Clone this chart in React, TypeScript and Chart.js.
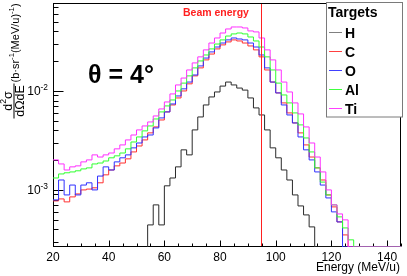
import React, { useEffect, useRef } from 'react';
import { Chart, registerables } from 'chart.js';

Chart.register(...registerables);

const FONT = 'Liberation Sans, Arial, Helvetica, sans-serif';

// Axis ranges
const X_MIN = 20;
const X_MAX = 145;
const Y_MIN = 2.65e-4;
const Y_MAX = 7.74e-2;
const BIN_WIDTH = 2;
const BEAM_ENERGY = 95;

// Tick labels
const X_TICKS = [20, 40, 60, 80, 100, 120, 140];
const Y_TICKS = [
  { value: 1e-3, base: '10', exp: '-3' },
  { value: 1e-2, base: '10', exp: '-2' },
];

// Series (first bin low edge, then bin contents, 2 MeV/u bins)
const TARGETS = ['H', 'C', 'O', 'Al', 'Ti'];
const COLORS = ['#2a2a2a', '#ff3030', '#3030ff', '#30ff30', '#ff30ff'];
const LEGEND_COLORS = ['#808080', '#ff4040', '#4040ff', '#40ff40', '#ff40ff'];

const H_START = 54;
const H_VALUES = [
  4.43e-4, 7.06e-4, 4.43e-4, 1.10e-3, 1.32e-3, 1.71e-3, 2.54e-3, 2.26e-3, 4.04e-3, 5.46e-3,
  7.22e-3, 8.70e-3, 9.77e-3, 1.12e-2, 1.23e-2, 1.15e-2, 1.07e-2, 1.02e-2, 8.50e-3, 6.74e-3,
  5.72e-3, 4.04e-3, 2.66e-3, 2.11e-3, 1.59e-3, 1.26e-3, 8.90e-4, 6.89e-4, 5.59e-4, 4.23e-4,
];

const C_START = 20;
const C_VALUES = [
  7.74e-4, 8.11e-4, 7.57e-4, 8.50e-4, 9.11e-4, 1.00e-3, 1.02e-3, 1.05e-3, 1.18e-3, 1.42e-3,
  1.59e-3, 1.75e-3, 1.87e-3, 2.06e-3, 2.42e-3, 2.78e-3, 3.20e-3, 3.77e-3, 4.33e-3, 5.09e-3,
  6.14e-3, 7.22e-3, 8.50e-3, 1.00e-2, 1.18e-2, 1.42e-2, 1.71e-2, 2.06e-2, 2.36e-2, 2.66e-2,
  2.92e-2, 3.13e-2, 3.28e-2, 3.20e-2, 3.05e-2, 2.85e-2, 2.60e-2, 2.21e-2, 1.63e-2, 1.23e-2,
  9.55e-3, 7.57e-3, 6.00e-3, 4.75e-3, 3.77e-3, 2.85e-3, 2.15e-3, 1.67e-3, 1.26e-3, 8.90e-4,
  6.74e-4, 4.75e-4, 3.51e-4,
];

const O_START = 20;
const O_VALUES = [
  7.93e-4, 1.26e-3, 8.90e-4, 1.12e-3, 8.90e-4, 1.12e-3, 1.18e-3, 1.00e-3, 1.38e-3, 1.71e-3,
  1.59e-3, 1.92e-3, 2.11e-3, 2.26e-3, 2.66e-3, 2.98e-3, 3.43e-3, 3.59e-3, 4.23e-3, 5.34e-3,
  6.14e-3, 7.39e-3, 8.90e-3, 1.05e-2, 1.23e-2, 1.45e-2, 1.79e-2, 2.15e-2, 2.48e-2, 2.78e-2,
  3.05e-2, 3.28e-2, 3.43e-2, 3.35e-2, 3.28e-2, 3.05e-2, 2.78e-2, 2.31e-2, 1.71e-2, 1.23e-2,
  9.55e-3, 7.22e-3, 5.72e-3, 4.75e-3, 3.43e-3, 2.54e-3, 2.01e-3, 1.52e-3, 1.12e-3, 8.30e-4,
  6.00e-4, 4.75e-4,
];

const AL_START = 20;
const AL_VALUES = [
  1.32e-3, 1.45e-3, 1.49e-3, 1.52e-3, 1.56e-3, 1.63e-3, 1.67e-3, 1.83e-3, 1.87e-3, 1.96e-3,
  2.11e-3, 2.21e-3, 2.36e-3, 2.60e-3, 3.05e-3, 3.43e-3, 3.95e-3, 4.43e-3, 5.21e-3, 6.14e-3,
  7.06e-3, 8.11e-3, 1.00e-2, 1.20e-2, 1.42e-2, 1.71e-2, 2.01e-2, 2.31e-2, 2.66e-2, 2.98e-2,
  3.28e-2, 3.59e-2, 3.77e-2, 3.85e-2, 3.77e-2, 3.51e-2, 3.20e-2, 2.78e-2, 2.21e-2, 1.63e-2,
  1.20e-2, 9.11e-3, 7.57e-3, 6.00e-3, 4.54e-3, 3.35e-3, 2.42e-3, 1.67e-3, 1.20e-3, 8.90e-4,
  7.06e-4, 5.34e-4, 4.13e-4, 3.13e-4,
];

const TI_START = 20;
const TI_VALUES = [
  2.01e-3, 1.83e-3, 1.59e-3, 1.71e-3, 1.75e-3, 1.92e-3, 2.01e-3, 2.26e-3, 2.15e-3, 2.26e-3,
  2.36e-3, 2.60e-3, 2.85e-3, 3.20e-3, 3.59e-3, 4.04e-3, 4.43e-3, 4.86e-3, 5.59e-3, 6.58e-3,
  7.74e-3, 9.33e-3, 1.15e-2, 1.35e-2, 1.63e-2, 1.92e-2, 2.21e-2, 2.60e-2, 3.05e-2, 3.43e-2,
  3.85e-2, 4.23e-2, 4.43e-2, 4.43e-2, 4.33e-2, 4.04e-2, 3.95e-2, 3.43e-2, 2.60e-2, 2.06e-2,
  1.63e-2, 1.23e-2, 9.77e-3, 7.57e-3, 5.86e-3, 4.33e-3, 2.98e-3, 2.15e-3, 1.52e-3, 1.00e-3,
  7.06e-4, 5.72e-4, 4.98e-4,
];

const SERIES_START = [H_START, C_START, O_START, AL_START, TI_START];
const SERIES_VALUES = [H_VALUES, C_VALUES, O_VALUES, AL_VALUES, TI_VALUES];

function histogramPoints(start: number, values: number[]) {
  const pts: { x: number; y: number }[] = [];
  if (start > X_MIN) pts.push({ x: start, y: Y_MIN });
  values.forEach((v, i) => pts.push({ x: start + i * BIN_WIDTH, y: v }));
  const end = start + values.length * BIN_WIDTH;
  pts.push({ x: end, y: values[values.length - 1] });
  pts.push({ x: end, y: Y_MIN });
  pts.push({ x: X_MAX, y: Y_MIN });
  return pts;
}

function drawPieces(
  ctx: CanvasRenderingContext2D,
  pieces: { t: string; sup?: boolean }[],
  x: number,
  y: number,
  size: number,
  align: 'left' | 'center' | 'right',
  weight = ''
) {
  const supSize = size * 0.7;
  const widths = pieces.map((p) => {
    ctx.font = `${weight} ${p.sup ? supSize : size}px ${FONT}`;
    return ctx.measureText(p.t).width;
  });
  const total = widths.reduce((a, b) => a + b, 0);
  let cx = align === 'left' ? x : align === 'center' ? x - total / 2 : x - total;
  ctx.textAlign = 'left';
  ctx.textBaseline = 'alphabetic';
  pieces.forEach((p, i) => {
    ctx.font = `${weight} ${p.sup ? supSize : size}px ${FONT}`;
    ctx.fillText(p.t, cx, p.sup ? y - size * 0.42 : y);
    cx += widths[i];
  });
}

const decorPlugin = {
  id: 'rootDecor',
  beforeDatasetsDraw(chart: any) {
    const { ctx, chartArea } = chart;
    const xs = chart.scales.x;
    const ys = chart.scales.y;
    const L = Math.round(chartArea.left) + 0.5;
    const T = Math.round(chartArea.top) + 0.5;
    const R = Math.round(chartArea.right) - 0.5;
    const B = Math.round(chartArea.bottom) - 0.5;
    ctx.save();
    ctx.strokeStyle = '#000';
    ctx.lineWidth = 1;
    ctx.strokeRect(L, T, R - L, B - T);
    // x ticks (inside)
    ctx.beginPath();
    for (let v = X_MIN; v <= X_MAX; v += 5) {
      const px = Math.round(xs.getPixelForValue(v)) + 0.5;
      const len = v % 20 === 0 ? 6 : 3;
      ctx.moveTo(px, B);
      ctx.lineTo(px, B - len);
    }
    // y ticks (inside)
    for (let d = -4; d <= -1; d++) {
      for (let m = 1; m <= 9; m++) {
        const v = m * Math.pow(10, d);
        if (v < Y_MIN || v > Y_MAX) continue;
        const py = Math.round(ys.getPixelForValue(v)) + 0.5;
        const len = m === 1 ? 10 : 5;
        ctx.moveTo(L, py);
        ctx.lineTo(L + len, py);
      }
    }
    ctx.stroke();

    // tick labels
    ctx.fillStyle = '#000';
    ctx.font = `12px ${FONT}`;
    ctx.textAlign = 'center';
    ctx.textBaseline = 'alphabetic';
    X_TICKS.forEach((v) => {
      ctx.fillText(String(v), xs.getPixelForValue(v), 261);
    });
    Y_TICKS.forEach((t) => {
      const py = ys.getPixelForValue(t.value);
      drawPieces(ctx, [{ t: t.base }, { t: t.exp, sup: true }], 48, py + 4.5, 12, 'right');
    });

    // x title
    ctx.font = `12px ${FONT}`;
    ctx.textAlign = 'right';
    ctx.fillText('Energy (MeV/u)', 400, 271);

    // y title (rotated)
    ctx.save();
    ctx.translate(14, 101);
    ctx.rotate(-Math.PI / 2);
    drawPieces(ctx, [{ t: 'd' }, { t: '2', sup: true }, { t: 'σ' }], 0, -2.5, 12.5, 'center');
    ctx.fillRect(-17.5, -0.5, 35, 1);
    drawPieces(ctx, [{ t: 'dΩdE' }], 0, 9.5, 12.5, 'center');
    drawPieces(
      ctx,
      [{ t: '(b·sr' }, { t: '-1', sup: true }, { t: '(MeV/u)' }, { t: '-1', sup: true }, { t: ')' }],
      18.5,
      4.5,
      11,
      'left'
    );
    ctx.restore();
    ctx.restore();
  },
  afterDatasetsDraw(chart: any) {
    const { ctx, chartArea } = chart;
    const xs = chart.scales.x;
    ctx.save();
    // beam energy line
    const bx = Math.round(xs.getPixelForValue(BEAM_ENERGY)) - 0.5;
    ctx.strokeStyle = '#ff2020';
    ctx.lineWidth = 1;
    ctx.beginPath();
    ctx.moveTo(bx, chartArea.top + 1);
    ctx.lineTo(bx, chartArea.bottom - 1);
    ctx.stroke();

    ctx.fillStyle = '#ff2020';
    ctx.font = `bold 10.5px ${FONT}`;
    ctx.textAlign = 'left';
    ctx.textBaseline = 'alphabetic';
    ctx.fillText('Beam energy', 183, 15.5);

    ctx.fillStyle = '#000';
    ctx.font = `bold 25px ${FONT}`;
    ctx.fillText('θ = 4°', 88, 83);

    // legend
    ctx.fillStyle = '#fff';
    ctx.fillRect(326.5, 2.5, 76, 114.5);
    ctx.strokeStyle = '#7a7a7a';
    ctx.strokeRect(326.5, 2.5, 76, 114.5);
    ctx.fillStyle = '#000';
    ctx.font = `bold 14px ${FONT}`;
    ctx.fillText('Targets', 328, 17);
    TARGETS.forEach((name, i) => {
      const cy = Math.round(32 + 19 * i) + 0.5;
      ctx.strokeStyle = LEGEND_COLORS[i];
      ctx.beginPath();
      ctx.moveTo(329, cy);
      ctx.lineTo(342, cy);
      ctx.stroke();
      ctx.fillStyle = '#000';
      ctx.font = `bold 14px ${FONT}`;
      ctx.fillText(name, 345, cy + 5);
    });
    ctx.restore();
  },
};

export default function App() {
  const canvasRef = useRef<HTMLCanvasElement | null>(null);

  useEffect(() => {
    const canvas = canvasRef.current;
    if (!canvas) return;
    const datasets = TARGETS.map((name, i) => ({
      label: name,
      data: histogramPoints(SERIES_START[i], SERIES_VALUES[i]),
      borderColor: COLORS[i],
      backgroundColor: COLORS[i],
      borderWidth: 1,
      pointRadius: 0,
      stepped: 'before' as const,
      fill: false,
      tension: 0,
      order: TARGETS.length - i,
    }));
    const chart = new Chart(canvas, {
      type: 'line',
      data: { datasets },
      options: {
        animation: false,
        responsive: false,
        maintainAspectRatio: false,
        layout: { padding: { left: 0, right: 6, top: 3, bottom: 0 } },
        plugins: { legend: { display: false }, tooltip: { enabled: false } },
        scales: {
          x: {
            type: 'linear',
            min: X_MIN,
            max: X_MAX,
            ticks: { display: false },
            grid: { display: false, drawTicks: false },
            border: { display: false },
            afterFit: (s: any) => {
              s.height = 29;
            },
          },
          y: {
            type: 'logarithmic',
            min: Y_MIN,
            max: Y_MAX,
            ticks: { display: false },
            grid: { display: false, drawTicks: false },
            border: { display: false },
            afterFit: (s: any) => {
              s.width = 53;
            },
          },
        },
      },
      plugins: [decorPlugin],
    });
    return () => chart.destroy();
  }, []);

  return (
    <div style={{ position: 'fixed', left: 0, top: 0, width: 407, height: 276, background: '#fff' }}>
      <canvas ref={canvasRef} width={407} height={276} style={{ width: 407, height: 276, display: 'block' }} />
    </div>
  );
}
